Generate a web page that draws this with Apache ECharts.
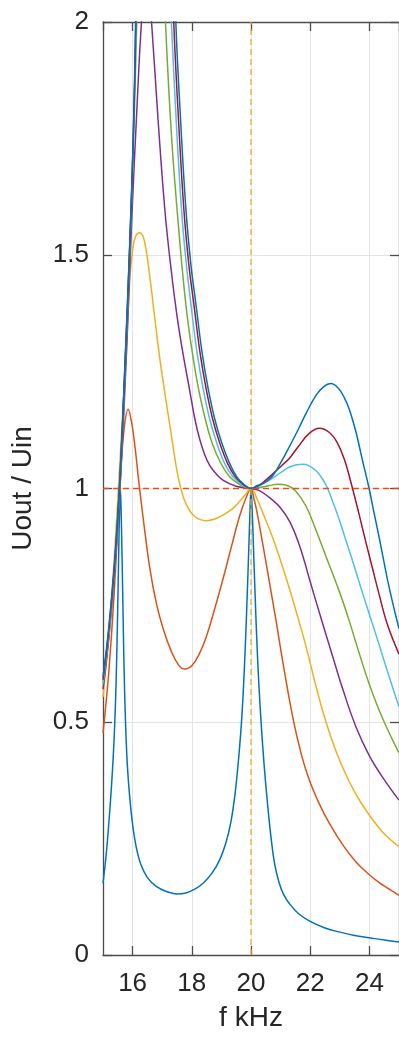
<!DOCTYPE html>
<html><head><meta charset="utf-8">
<script src="https://cdn.jsdelivr.net/npm/echarts@6/dist/echarts.min.js"></script>
<style>html,body{margin:0;padding:0;background:#fff}#c{width:399px;height:1037px}</style>
</head><body><div id="c"></div>
<script>
// ---- data ----
const xRange = [15, 25];
const yRange = [0, 2];
const yTickStep = 0.5;
const xName = 'f kHz';
const yName = 'Uout / Uin';

const c1 = [[15.0,0.154],[15.1,0.21],[15.2,0.285],[15.3,0.375],[15.38,0.47],[15.44,0.58],[15.49,0.72],[15.53,0.86],[15.56,0.96],[15.58,1.0],[15.6,0.98],[15.63,0.9],[15.67,0.76],[15.71,0.62],[15.76,0.5],[15.82,0.41],[15.9,0.34],[16.0,0.28],[16.12,0.232],[16.28,0.194],[16.5,0.166],[16.8,0.147],[17.14,0.136],[17.48,0.131],[17.8,0.133],[18.1,0.141],[18.4,0.155],[18.7,0.177],[18.95,0.205],[19.15,0.24],[19.32,0.285],[19.46,0.345],[19.58,0.42],[19.69,0.51],[19.78,0.62],[19.86,0.75],[19.93,0.88],[19.97,0.96],[20.0,1.0],[20.03,0.97],[20.08,0.88],[20.14,0.77],[20.22,0.64],[20.32,0.52],[20.44,0.41],[20.58,0.31],[20.68,0.25],[20.8,0.195],[20.95,0.155],[21.1,0.13],[21.3,0.11],[21.6,0.089],[22.0,0.072],[22.5,0.058],[23.0,0.049],[23.5,0.042],[24.0,0.037],[24.5,0.032],[25.0,0.028]];
const c2 = [[15.0,0.476],[15.2,0.61],[15.4,0.8],[15.57,1.0],[15.7,1.12],[15.85,1.17],[15.97,1.14],[16.08,1.09],[16.2,1.02],[16.35,0.94],[16.58,0.83],[16.8,0.755],[17.03,0.7],[17.3,0.652],[17.55,0.622],[17.76,0.613],[18.0,0.62],[18.25,0.645],[18.49,0.682],[18.75,0.737],[19.05,0.805],[19.35,0.878],[19.61,0.94],[19.82,0.978],[20.0,1.0],[20.1,0.978],[20.2,0.95],[20.4,0.88],[20.62,0.8],[20.85,0.715],[21.07,0.63],[21.41,0.51],[21.7,0.43],[21.97,0.375],[22.3,0.325],[22.64,0.283],[23.1,0.236],[23.54,0.2],[24.0,0.172],[24.33,0.155],[24.65,0.142],[25.0,0.128]];
const c3 = [[15.0,0.553],[15.2,0.69],[15.4,0.87],[15.6,1.09],[15.8,1.31],[15.91,1.454],[16.0,1.51],[16.1,1.54],[16.245,1.548],[16.4,1.53],[16.58,1.454],[16.75,1.365],[16.92,1.278],[17.1,1.2],[17.26,1.135],[17.48,1.045],[17.65,0.995],[17.82,0.965],[18.1,0.94],[18.49,0.931],[18.8,0.935],[19.16,0.947],[19.4,0.958],[19.61,0.972],[19.8,0.986],[20.0,1.0],[20.2,0.978],[20.45,0.94],[20.73,0.895],[21.0,0.845],[21.3,0.785],[21.6,0.72],[21.86,0.661],[22.2,0.575],[22.53,0.5],[22.9,0.432],[23.3,0.374],[23.7,0.328],[24.1,0.291],[24.5,0.26],[25.0,0.232]];
const c4 = [[15.0,0.57],[15.2,0.68],[15.4,0.83],[15.6,1.03],[15.8,1.3],[15.97,1.575],[16.15,1.82],[16.3,2.0],[16.47,2.13],[16.64,2.0],[16.85,1.8],[17.09,1.597],[17.3,1.47],[17.5,1.37],[17.7,1.29],[17.93,1.21],[18.1,1.15],[18.27,1.105],[18.45,1.07],[18.6,1.05],[18.8,1.033],[19.05,1.018],[19.5,1.005],[20.0,1.0],[20.3,0.995],[20.73,0.975],[21.0,0.958],[21.3,0.93],[21.6,0.885],[21.8,0.845],[22.0,0.8],[22.4,0.715],[22.76,0.64],[23.1,0.57],[23.54,0.49],[24.0,0.427],[24.5,0.376],[25.0,0.332]];
const c5 = [[15.0,0.58],[15.2,0.69],[15.4,0.84],[15.57,1.01],[15.75,1.26],[15.9,1.5],[16.02,1.72],[16.14,2.0],[16.3,2.4],[16.55,2.7],[16.8,2.45],[17.11,2.0],[17.3,1.77],[17.5,1.6],[17.82,1.383],[18.15,1.24],[18.45,1.15],[18.7,1.095],[19.0,1.052],[19.28,1.025],[19.6,1.009],[20.0,1.0],[20.3,1.002],[20.6,1.006],[20.9,1.009],[21.2,1.007],[21.5,0.995],[21.86,0.962],[22.2,0.91],[22.53,0.855],[22.98,0.78],[23.3,0.72],[23.65,0.648],[24.0,0.58],[24.44,0.508],[25.0,0.433]];
const c6 = [[15.0,0.585],[15.2,0.695],[15.4,0.84],[15.57,1.015],[15.75,1.27],[15.9,1.51],[16.02,1.74],[16.12,2.0],[16.3,2.6],[16.6,3.0],[16.9,2.6],[17.31,2.0],[17.48,1.78],[17.65,1.6],[17.8,1.49],[17.98,1.39],[18.18,1.29],[18.38,1.215],[18.6,1.15],[18.83,1.1],[19.1,1.055],[19.39,1.025],[19.7,1.008],[20.0,1.0],[20.2,1.003],[20.45,1.012],[20.73,1.022],[21.0,1.034],[21.3,1.046],[21.55,1.051],[21.74,1.052],[21.95,1.049],[22.2,1.038],[22.4,1.022],[22.59,1.0],[22.8,0.965],[23.0,0.93],[23.2,0.89],[23.43,0.845],[23.65,0.8],[24.0,0.73],[24.33,0.665],[24.65,0.6],[25.0,0.532]];
const c7 = [[15.0,0.59],[15.2,0.7],[15.4,0.845],[15.57,1.018],[15.75,1.275],[15.9,1.515],[16.02,1.745],[16.11,2.0],[16.3,2.7],[16.65,3.2],[17.0,2.7],[17.39,2.0],[17.56,1.78],[17.73,1.6],[17.9,1.48],[18.08,1.39],[18.28,1.29],[18.48,1.215],[18.7,1.15],[18.93,1.1],[19.2,1.055],[19.47,1.025],[19.75,1.008],[20.0,1.0],[20.2,1.004],[20.5,1.018],[20.8,1.035],[21.05,1.05],[21.3,1.065],[21.6,1.09],[21.95,1.117],[22.31,1.129],[22.65,1.12],[22.9,1.1],[23.15,1.063],[23.43,1.0],[23.65,0.945],[23.88,0.885],[24.1,0.83],[24.3,0.78],[24.6,0.71],[25.0,0.645]];
const c8 = [[15.0,0.596],[15.2,0.705],[15.4,0.85],[15.57,1.02],[15.75,1.28],[15.9,1.52],[16.02,1.75],[16.1,2.0],[16.3,2.8],[16.7,3.4],[17.05,2.8],[17.46,2.0],[17.63,1.78],[17.8,1.6],[17.97,1.48],[18.15,1.39],[18.35,1.29],[18.55,1.215],[18.77,1.15],[19.0,1.1],[19.27,1.055],[19.52,1.025],[19.78,1.008],[20.0,1.0],[20.2,1.006],[20.45,1.012],[20.73,1.027],[21.0,1.055],[21.3,1.09],[21.6,1.127],[21.86,1.161],[22.2,1.2],[22.45,1.218],[22.7,1.225],[22.95,1.215],[23.15,1.195],[23.32,1.17],[23.55,1.12],[23.76,1.062],[23.99,1.0],[24.15,0.95],[24.33,0.895],[24.5,0.84],[24.66,0.79],[24.85,0.738],[25.0,0.7]];
const refH = [[15,1],[25,1]];
const refV = [[20,0],[20,2]];

const curves = [c1, c2, c3, c4, c5, c6, c7, c8];
const curveColors = ['#0072BD','#D95319','#EDB120','#7E2F8E','#77AC30','#4DBEEE','#A2142F','#0072BD'];

// ---- chart ----
const FONT = '"Liberation Sans", Arial, Helvetica, sans-serif';
const AX = '#4d4d4d';
const TXT = '#262626';
const axisLine = {show: true, onZero: false, lineStyle: {color: AX, width: 1.3}};
const axisTick = {show: true, inside: true, length: 9, lineStyle: {color: AX, width: 1.3}};
const grid = {color: '#e3e3e3', width: 1};

const chart = echarts.init(document.getElementById('c'), null, {renderer: 'canvas'});
const series = curves.map((d, i) => ({
  type: 'line', data: d, showSymbol: false, smooth: 0.4, clip: true,
  lineStyle: {color: curveColors[i], width: 1.5}, itemStyle: {color: curveColors[i]},
  silent: true, z: 3
}));
series.push({type: 'line', data: refH, showSymbol: false, silent: true, z: 4,
  lineStyle: {color: '#D95319', width: 1.3, type: [6, 4]}});
series.push({type: 'line', data: refV, showSymbol: false, silent: true, z: 4,
  lineStyle: {color: '#EDB120', width: 1.3, type: [6, 4]}});

chart.setOption({
  animation: false,
  backgroundColor: '#fff',
  grid: {left: 103, top: 22, width: 297, height: 933, containLabel: false},
  xAxis: [
    {type: 'value', min: xRange[0], max: xRange[1], splitNumber: 5, position: 'bottom',
     axisLine, axisTick,
     axisLabel: {showMinLabel: false, showMaxLabel: false, fontSize: 26, color: TXT, fontFamily: FONT, margin: 16},
     splitLine: {show: true, lineStyle: grid},
     name: xName, nameLocation: 'middle', nameGap: 49,
     nameTextStyle: {fontSize: 28, color: TXT, fontFamily: FONT}},
    {type: 'value', min: xRange[0], max: xRange[1], splitNumber: 5, position: 'top',
     axisLine, axisTick, axisLabel: {show: false}, splitLine: {show: false}}
  ],
  yAxis: [
    {type: 'value', min: yRange[0], max: yRange[1], interval: yTickStep, position: 'left',
     axisLine, axisTick,
     axisLabel: {fontSize: 26, color: TXT, fontFamily: FONT, margin: 14},
     splitLine: {show: true, lineStyle: grid},
     name: yName, nameLocation: 'middle', nameGap: 66,
     nameTextStyle: {fontSize: 28, color: TXT, fontFamily: FONT}},
    {type: 'value', min: yRange[0], max: yRange[1], interval: yTickStep, position: 'right',
     axisLine, axisTick, axisLabel: {show: false}, splitLine: {show: false}}
  ],
  series
});
</script></body></html>
